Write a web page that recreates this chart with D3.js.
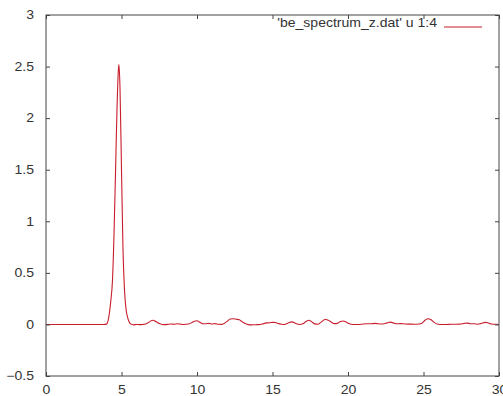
<!DOCTYPE html>
<html>
<head>
<meta charset="utf-8">
<script src="https://d3js.org/d3.v7.min.js"></script>
<style>
  html, body { margin: 0; padding: 0; background: #fff; }
  svg { display: block; }
  text { font-family: "Liberation Sans", Arial, sans-serif; font-size: 12px; fill: #333; }
</style>
</head>
<body>
<svg id="chart" width="503" height="396"></svg>
<script>
// ---- data ----
const seriesName = "'be_spectrum_z.dat' u 1:4";
const xValues = [0, 3.8, 3.9, 4.0, 4.1, 4.2, 4.3, 4.4, 4.5, 4.6, 4.7, 4.8, 4.83, 4.9, 5.0, 5.1, 5.2, 5.3, 5.4, 5.5, 5.6, 5.7,
  5.8, 6.0, 6.2, 6.4, 6.6, 6.8, 7.0, 7.1, 7.3, 7.5, 7.7, 7.9, 8.1, 8.3, 8.5, 8.7, 8.9, 9.1, 9.3, 9.5, 9.7, 9.9, 10.0,
  10.2, 10.4, 10.6, 10.8, 11.0, 11.2, 11.4, 11.6, 11.8, 12.0, 12.2, 12.4, 12.6, 12.8, 13.0, 13.2, 13.4, 13.6, 13.8,
  14.0, 14.2, 14.4, 14.6, 14.8, 15.0, 15.2, 15.4, 15.6, 15.8, 16.0, 16.3, 16.5, 16.8, 17.0, 17.2, 17.4, 17.6, 17.8,
  18.0, 18.2, 18.5, 18.7, 18.9, 19.1, 19.3, 19.5, 19.7, 19.9, 20.1, 20.3, 20.6, 20.9, 21.2, 21.5, 21.8, 22.0, 22.3,
  22.6, 22.8, 23.0, 23.2, 23.5, 23.8, 24.1, 24.4, 24.7, 24.9, 25.1, 25.3, 25.5, 25.7, 25.9, 26.2, 26.5, 26.8, 27.1,
  27.4, 27.7, 27.9, 28.1, 28.4, 28.6, 28.8, 29.1, 29.3, 29.5, 29.8, 30.0];
const yValues = [0, 0, 0.0005, 0.003, 0.03, 0.11, 0.24, 0.42, 0.85, 1.45, 2.08, 2.48, 2.52, 2.30, 1.50, 0.72, 0.33, 0.15, 0.07, 0.025, 0.005, 0.0,
  -0.004, 0.0, -0.002, 0.0, 0.005, 0.02, 0.038, 0.04, 0.025, 0.008, 0.0, -0.002, 0.002, 0.004, 0.002, 0.006, 0.003, 0.0, 0.001, 0.006, 0.02, 0.034, 0.035,
  0.02, 0.006, 0.007, 0.01, 0.004, 0.008, 0.002, 0.001, 0.01, 0.03, 0.052, 0.055, 0.05, 0.045, 0.025, 0.008, -0.002, -0.004, -0.003,
  -0.002, 0.0, 0.008, 0.015, 0.016, 0.02, 0.018, 0.008, 0.002, 0.0, 0.012, 0.025, 0.012, 0.0, 0.006, 0.025, 0.04, 0.025, 0.005,
  0.002, 0.02, 0.05, 0.04, 0.022, 0.008, 0.01, 0.028, 0.033, 0.02, 0.006, 0.0, 0.0, 0.002, 0.006, 0.006, 0.01, 0.006, 0.004,
  0.015, 0.022, 0.015, 0.006, 0.008, 0.004, 0.003, 0.002, 0.004, 0.012, 0.04, 0.055, 0.045, 0.02, 0.005, 0.0, 0.0, 0.001, 0.002,
  0.003, 0.01, 0.013, 0.007, 0.006, 0.002, 0.008, 0.02, 0.014, 0.004, 0.001, 0.0];
const xTicks = [0, 5, 10, 15, 20, 25, 30];
const yTicks = [-0.5, 0, 0.5, 1, 1.5, 2, 2.5, 3];

// ---- layout ----
const svg = d3.select("#chart");
const mLeft = 46, mRight = 499, mTop = 15, mBottom = 376;
const x = d3.scaleLinear().domain([0, 30]).range([mLeft, mRight]);
const y = d3.scaleLinear().domain([-0.5, 3]).range([mBottom, mTop]);
const axisColor = "#444";
const lineColor = "#c81e2c";
const sx = 1.17; // horizontal stretch of the text glyphs

// data line (clipped)
svg.append("clipPath").attr("id", "clip").append("rect")
  .attr("x", mLeft).attr("y", mTop).attr("width", mRight - mLeft).attr("height", mBottom - mTop);

const pts = xValues.map((v, i) => [v, yValues[i]]);
const line = d3.line().x(d => x(d[0])).y(d => y(d[1])).curve(d3.curveMonotoneX);
svg.append("path").datum(pts)
  .attr("d", line)
  .attr("fill", "none")
  .attr("stroke", lineColor)
  .attr("stroke-width", 1.1)
  .attr("clip-path", "url(#clip)");

// axes: bottom/left labels, ticks inward, mirrored
const tl = 4;
const gB = svg.append("g").attr("transform", `translate(0,${mBottom})`)
  .call(d3.axisBottom(x).tickValues(xTicks).tickFormat(d3.format("d")).tickSizeInner(-tl).tickSizeOuter(0).tickPadding(9.5));
const gT = svg.append("g").attr("transform", `translate(0,${mTop})`)
  .call(d3.axisTop(x).tickValues(xTicks).tickFormat("").tickSizeInner(-tl).tickSizeOuter(0));
const gL = svg.append("g").attr("transform", `translate(${mLeft},0)`)
  .call(d3.axisLeft(y).tickValues(yTicks).tickFormat(d => d3.format("")(d)).tickSizeInner(-tl).tickSizeOuter(0).tickPadding(12 / sx));
const gR = svg.append("g").attr("transform", `translate(${mRight},0)`)
  .call(d3.axisRight(y).tickValues(yTicks).tickFormat("").tickSizeInner(-tl).tickSizeOuter(0));

[gB, gT, gL, gR].forEach(g => {
  g.select(".domain").remove();
  g.selectAll(".tick line").attr("stroke", axisColor);
  g.selectAll("text").attr("font-family", "Liberation Sans, Arial, sans-serif").attr("font-size", 12).attr("fill", "#333")
    .attr("transform", `scale(${sx},1)`);
});
gB.selectAll("text").attr("dy", "0.71em");

// border
svg.append("rect")
  .attr("x", mLeft).attr("y", mTop).attr("width", mRight - mLeft).attr("height", mBottom - mTop)
  .attr("fill", "none").attr("stroke", axisColor).attr("stroke-width", 1);

// legend
const legY = 27;
svg.append("text").attr("transform", `translate(437,${legY - 0.5}) scale(${sx},1)`)
  .attr("text-anchor", "end").text(seriesName);
svg.append("line").attr("x1", 444).attr("x2", 482).attr("y1", legY).attr("y2", legY)
  .attr("stroke", lineColor).attr("stroke-width", 1.1);
</script>
</body>
</html>
